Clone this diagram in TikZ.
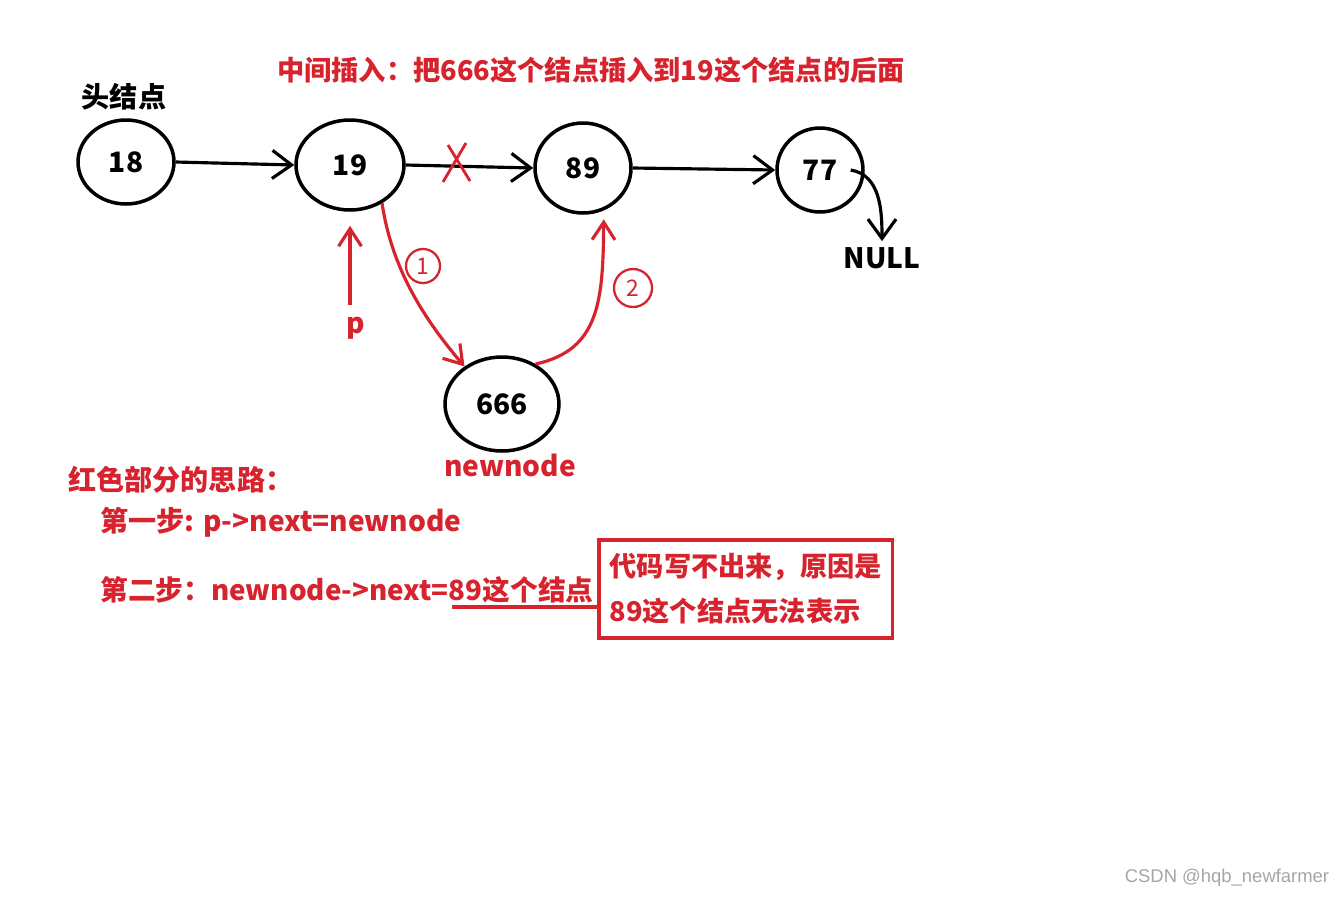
\documentclass[tikz,border=0pt]{standalone}
\usepackage{fontspec}
\setmainfont{Noto Sans CJK SC}
\newfontfamily\wmfont{Liberation Sans}
\usetikzlibrary{shapes.geometric,arrows.meta}
\definecolor{hongse}{RGB}{215,35,45}
\tikzset{
  jiedian/.style={draw,ellipse,line width=2pt,inner sep=0pt,font=\fontsize{16}{18}\selectfont\bfseries},
  lian/.style={line width=1.8pt,-{Straight Barb[length=11pt,width=16pt]}},
  hong/.style={hongse,line width=1.8pt,-{Straight Barb[length=10pt,width=13pt]}},
  hongzi/.style={text=hongse,font=\fontsize{16}{18}\selectfont\bfseries},
  heizi/.style={font=\fontsize{16}{18}\selectfont\bfseries},
  xuhao/.style={draw=hongse,circle,text=hongse,line width=1.3pt,inner sep=0pt,font=\fontsize{13}{13}\selectfont},
}
\begin{document}
\begin{tikzpicture}[x=0.02cm,y=-0.02cm]
  \useasboundingbox[fill=white] (0,0) rectangle (1342,897);
  % 标题
  \node[hongzi,font=\fontsize{15.5}{18}\selectfont\bfseries] (biaoti) at (591,70) {中间插入：把666这个结点插入到19这个结点的后面};
  % 原来的结点
  \node[jiedian,minimum width=1.92cm,minimum height=1.68cm] (n18) at (126,162) {18};
  \node[jiedian,minimum width=2.16cm,minimum height=1.8cm] (n19) at (350,165) {19};
  \node[jiedian,minimum width=1.92cm,minimum height=1.8cm] (n89) at (583,168) {89};
  \node[jiedian,minimum width=1.72cm,minimum height=1.68cm] (n77) at (820,170) {77};
  \node[heizi] (tou) at (124,97) {头结点};
  \node[heizi] (null) at (882,258) {NULL};
  % 原来的链
  \draw[lian] (n18.east) -- (n19.west);
  \draw[lian] (n19.east) -- (n89.west);
  \draw[lian] (n89.east) -- (n77.west);
  \draw[lian] ([xshift=-8pt]n77.east) .. controls +(30,5) and +(0,-30) .. (null.north);
  % 红叉
  \draw[hongse,line width=1.6pt] (448,145) -- (470,181) (466,143) -- (443,182);
  % 新结点
  \node[jiedian,minimum width=2.28cm,minimum height=1.88cm] (n666) at (502,404) {666};
  \node[hongzi] (xin) at (510,465) {newnode};
  \node[hongzi] (p) at (356,328) {p};
  \draw[hong] ([yshift=3pt]p.north -| n19.south) -- ([yshift=-8pt]n19.south);
  % 第一步
  \draw[hong] (n19.-50) .. controls (392,270) and (425,320) .. (n666.135);
  \node[xuhao,minimum size=0.68cm] (c1) at (423,266) {1};
  % 第二步
  \draw[hong] (n666.50) .. controls (600,350) and (603,300) .. ([yshift=-5pt]n89.-64);
  \node[xuhao,minimum size=0.76cm] (c2) at (633,288) {2};
  % 思路
  \node[hongzi,anchor=west,inner sep=0pt] (silu) at (68,480) {红色部分的思路：};
  \node[hongzi,anchor=west,inner sep=0pt] (bu1) at (100,522) {第一步: p->next=newnode};
  \node[hongzi,anchor=west,inner sep=0pt,font=\fontsize{15.8}{18}\selectfont\bfseries] (bu2) at (100,590) {第二步：newnode->next=89这个结点};
  \node[draw=hongse,line width=2pt,text=hongse,font=\fontsize{15.5}{25.5}\selectfont\bfseries,align=left,anchor=north west,minimum width=5.88cm,minimum height=1.96cm] (kuang) at (597,538) {代码写不出来，原因是\\89这个结点无法表示};
  \coordinate (hua) at (452,607);
  \draw[hongse,line width=2pt] (hua) -- (hua -| kuang.west);
  % 水印
  \node[text=gray!70,font=\wmfont\fontsize{10.5}{13}\selectfont] (shuiyin) at (1227,878) {CSDN @hqb\_newfarmer};
\end{tikzpicture}
\end{document}
